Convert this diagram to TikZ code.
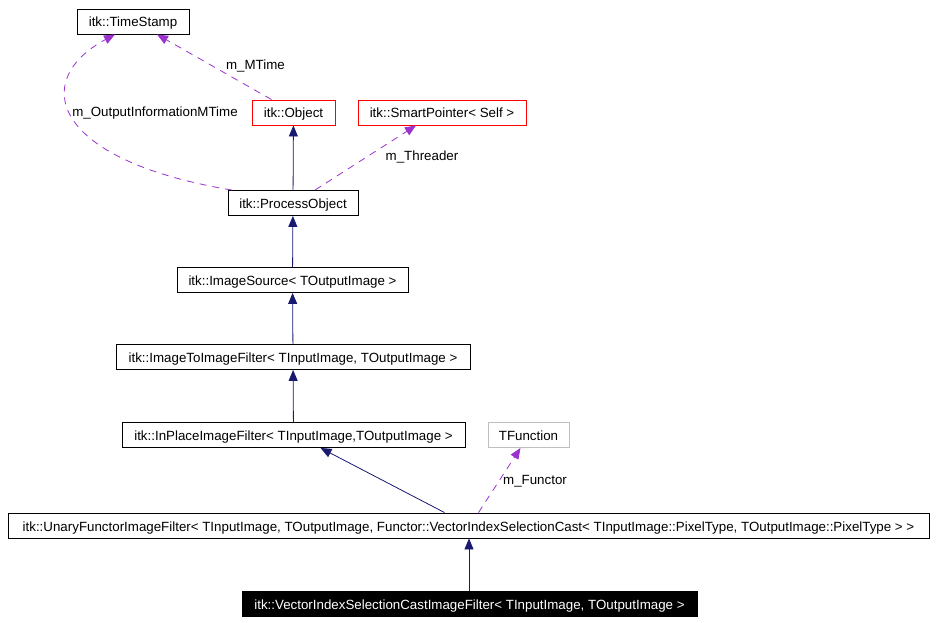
\documentclass[tikz,border=0pt]{standalone}
\usepackage{fontspec}
\setmainfont{Liberation Sans}
\usetikzlibrary{arrows.meta}
\definecolor{edgenavy}{RGB}{25,25,112}
\definecolor{edgepurple}{RGB}{154,50,205}
\definecolor{boxgray}{RGB}{191,191,191}
\begin{document}
\begin{tikzpicture}[x=1pt, y=-1pt,
  every node/.style={font=\fontsize{13.33}{16}\selectfont, text height=11pt, text depth=0pt},
  box/.style={draw, line width=0.9pt, minimum height=25pt, inner sep=0pt},
  inh/.style={-{Triangle[length=11pt,width=9pt]}, edgenavy, line width=0.8pt},
  use/.style={-{Triangle[length=11pt,width=9pt]}, edgepurple, line width=0.8pt, dash pattern=on 7pt off 6pt}]
  \useasboundingbox (0,0) rectangle (938,623);

  % Top classes
  \node[box, minimum width=112pt] (ts) at (133,21.5) {itk::TimeStamp};
  \node[box, draw=red, minimum width=83pt] (obj) at (293.5,112.5) {itk::Object};
  \node[box, draw=red, minimum width=168pt] (sp) at (442,112.5) {itk::SmartPointer< Self >};

  % Filter chain
  \node[box, minimum width=130pt] (po) at (293,203) {itk::ProcessObject};
  \node[box, minimum width=231pt] (is) at (292.5,280) {itk::ImageSource< TOutputImage >};
  \node[box, minimum width=354pt] (itoi) at (293,357) {itk::ImageToImageFilter< TInputImage, TOutputImage >};
  \node[box, minimum width=343pt] (ip) at (293.5,435) {itk::InPlaceImageFilter< TInputImage,TOutputImage >};
  \node[box, draw=boxgray, minimum width=81pt] (tf) at (528.5,435) {TFunction};
  \node[box, minimum width=921pt] (uf) at (468.5,525.5) {itk::UnaryFunctorImageFilter< TInputImage, TOutputImage, Functor::VectorIndexSelectionCast< TInputImage::PixelType, TOutputImage::PixelType > >};
  \node[box, fill=black, text=white, minimum width=455pt] (vi) at (469.5,603.5) {itk::VectorIndexSelectionCastImageFilter< TInputImage, TOutputImage >};

  % Inheritance arrows
  \draw[inh] (po) -- (obj);
  \draw[inh] (is) -- (po);
  \draw[inh] (itoi) -- (is);
  \draw[inh] (ip) -- (itoi);
  \draw[inh] ([xshift=-24pt]uf.north) -- ([xshift=27pt]ip.south);
  \draw[inh] ([xshift=0.5pt]uf.south |- vi.north) -- ([xshift=0.5pt]uf.south);

  % Member arrows
  \draw[use] ([xshift=-22pt]obj.north) -- ([xshift=24pt]ts.south);
  \draw[use] ([xshift=-61pt]po.north) .. controls (50,160) and (30,80) .. ([xshift=-18pt]ts.south);
  \draw[use] ([xshift=22pt]po.north) -- ([xshift=-26pt]sp.south);
  \draw[use] ([xshift=10pt]uf.north) -- ([xshift=-8pt]tf.south);

  % Member labels
  \node (lmtime) at (255.5,64.5) {m\_MTime};
  \node (loutput) at (155,111) {m\_OutputInformationMTime};
  \node (lthreader) at (422,155.5) {m\_Threader};
  \node (lfunctor) at (535,478.5) {m\_Functor};
\end{tikzpicture}
\end{document}
